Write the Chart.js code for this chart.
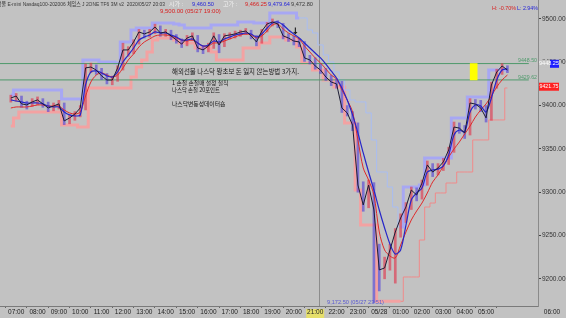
<!DOCTYPE html>
<html><head><meta charset="utf-8">
<script src="https://cdn.jsdelivr.net/npm/chart.js@4.4.1/dist/chart.umd.min.js"></script>
<style>html,body{margin:0;padding:0;background:#c2c2c2;overflow:hidden}#wrap{width:566px;height:318px;position:relative}</style>
</head><body><div id="wrap"><canvas id="c" width="566" height="318"></canvas></div>
<script>
// time in hours from 2020/05/27 00:00 (24 = 05/28 00:00), 15-minute samples of 3-minute chart
const times=[6.75,7,7.25,7.5,7.75,8,8.25,8.5,8.75,9,9.25,9.5,9.75,10,10.25,10.5,10.75,11,11.25,11.5,11.75,12,12.25,12.5,12.75,13,13.25,13.5,13.75,14,14.25,14.5,14.75,15,15.25,15.5,15.75,16,16.25,16.5,16.75,17,17.25,17.5,17.75,18,18.25,18.5,18.75,19,19.25,19.5,19.75,20,20.25,20.5,20.75,21,21.25,21.5,21.75,22,22.25,22.5,22.75,23,23.25,23.5,23.75,24,24.25,24.5,24.75,25,25.25,25.5,25.75,26,26.25,26.5,26.75,27,27.25,27.5,27.75,28,28.25,28.5,28.75,29,29.25,29.5,29.75,30];
const closes=[9408.75,9411,9402,9400.75,9404.25,9406.5,9402,9397.25,9399.5,9402,9382.25,9385.75,9390.25,9397.25,9443.5,9444.5,9441,9434.25,9429.5,9429.5,9443.5,9464.25,9464.25,9473.5,9485,9482.75,9485,9490.75,9483.75,9485,9480.5,9475.75,9471,9478,9480.5,9466.5,9464.25,9468.75,9480.5,9470,9480.5,9481.5,9482.75,9485,9486,9480.5,9473.5,9486,9494.25,9496.5,9494.25,9480.5,9478,9474.5,9473.5,9455,9452.75,9445.75,9441,9433,9427.25,9425,9397.25,9391.5,9377.5,9308.25,9285.25,9308.25,9279.5,9210.25,9212.5,9233.25,9254,9270.25,9283,9302.5,9296.75,9310.5,9331.5,9323.25,9328,9335,9348.75,9375.25,9374,9368.5,9403,9401.75,9397.25,9385.75,9423.75,9438.75,9445.75,9441];
const highs=[9412,9414,9411,9405,9408,9410,9408,9404,9403,9406,9403,9389,9393,9400,9448,9449,9447,9443,9437,9434,9446,9472,9468,9476,9488,9487,9488,9494,9492,9488,9487,9482,9477,9481,9484,9481,9469,9472,9484,9482,9483,9484,9486,9487,9489,9487,9481,9488,9496,9500,9498,9495,9483,9480,9477,9474,9458,9455,9448,9443,9435,9431,9428,9400,9393,9380,9312,9314,9311,9240,9225,9240,9258,9275,9288,9306,9305,9314,9336,9333,9333,9339,9352,9381,9380,9377,9408,9407,9406,9400,9427,9442,9448.5,9446];
const lows=[9404,9405,9398,9396,9399,9401,9398,9393,9394,9396,9378,9379,9383,9387,9395,9438,9436,9430,9425,9424,9428,9441,9457,9460,9471,9478,9479,9483,9480,9480,9476,9472,9467,9469,9475,9462,9460,9462,9466,9461,9468,9477,9478,9480,9482,9477,9469,9472,9485,9492,9490,9477,9474,9470,9468,9451,9448,9442,9437,9429,9423,9420,9392,9388,9371,9300,9278,9282,9172.5,9186,9200,9210,9195,9248,9265,9280,9290,9292,9308,9318,9320,9325,9332,9346,9368,9362,9366,9396,9393,9381,9383,9420,9436,9438];
const maRed=[9397.2,9398.4,9398.4,9398.4,9399.5,9400.7,9400.7,9399.5,9399.5,9399.5,9394.9,9391.5,9390.3,9392.6,9411.1,9427.3,9435.3,9437.7,9435.3,9433,9435.3,9443.4,9452.7,9459.6,9467.7,9473.4,9476.9,9480.4,9481.5,9481.5,9480.4,9478.1,9475.7,9474.6,9475.7,9472.3,9468.8,9468.8,9472.3,9472.3,9474.6,9476.9,9479.2,9481.5,9482.7,9481.5,9478.1,9480.4,9486.1,9493.1,9494.2,9488.4,9483.8,9480.4,9476.9,9468.8,9461.9,9455,9449.2,9442.3,9435.3,9430.7,9418,9406.5,9392.6,9360.3,9328,9314.1,9296.8,9254.1,9233.3,9226.3,9224,9239,9254.1,9267.9,9278.3,9287.5,9299.1,9311.8,9319.9,9330.3,9340.6,9349.9,9358,9367.2,9376.4,9386.8,9394.9,9401.9,9411.1,9421.5,9429.6,9435.3];
const maBlue=[9406.5,9405.3,9404.2,9403,9403,9403,9401.9,9399.5,9398.4,9398.4,9392.6,9389.2,9388,9389.2,9423.8,9438.8,9440,9437.7,9434.2,9433,9438.8,9450.3,9458.4,9466.5,9475.7,9479.2,9481.5,9485,9483.8,9483.8,9481.5,9479.2,9475.7,9475.7,9476.9,9472.3,9468.8,9470,9474.6,9473.4,9476.9,9479.2,9481.5,9482.7,9483.8,9482.7,9479.2,9482.7,9489.6,9495.4,9496.5,9493.1,9487.3,9482.7,9478.1,9472.3,9466.5,9460.7,9455,9448,9440,9431.9,9420.3,9406.5,9389.2,9368.4,9345.3,9323.3,9302.5,9279.4,9258.7,9240.2,9228.7,9233.3,9262.1,9291,9299.1,9304.9,9323.3,9325.6,9326.7,9330.3,9343,9366.1,9371.8,9369.5,9392.6,9400.7,9399.5,9392.6,9408.8,9429.6,9441.1,9442.3];
const upperBand=[9412.2,9418,9418,9418,9418,9418,9418,9418,9418,9418,9407.6,9407.6,9407.6,9407.6,9452.7,9452.7,9452.7,9450.3,9450.3,9450.3,9449.2,9473.4,9473.4,9487.3,9489.6,9489.6,9489.6,9495.4,9495.4,9495.4,9495.4,9494.2,9493.1,9489.6,9489.6,9489.6,9489.6,9489.6,9493.1,9493.1,9493.1,9493.1,9493.1,9496.5,9496.5,9496.5,9495.4,9495.4,9495.4,9506.9,9506.9,9506.9,9506.9,9506.9,9501.2,9501.2,9487.3,9483.8,9470,9458.4,9450.3,9438.8,9429.6,9418,9406.5,9404.2,9404.2,9391.5,9360.3,9323.3,9323.3,9306,9282.9,9259.8,9306,9306,9306,9308.3,9339.5,9339.5,9339.5,9339.5,9339.5,9385.7,9385.7,9385.7,9409.9,9409.9,9409.9,9409.9,9441.1,9441.1,9441.1,9441.1];
const lowerBand=[9376.4,9385.7,9392.6,9392.6,9392.6,9392.6,9392.6,9392.6,9392.6,9392.6,9377.6,9377.6,9377.6,9375.3,9375.3,9420.3,9420.3,9420.3,9420.3,9420.3,9420.3,9420.3,9420.3,9433,9444.6,9452.7,9461.9,9475.7,9478.1,9478.1,9478.1,9475.7,9472.3,9472.3,9472.3,9466.5,9466.5,9466.5,9461.9,9452.7,9452.7,9452.7,9452.7,9452.7,9466.5,9466.5,9466.5,9472.3,9472.3,9479.2,9479.2,9479.2,9475.7,9475.7,9467.7,9449.2,9449.2,9441.1,9441.1,9429.6,9429.6,9421.5,9421.5,9379.9,9379.9,9302.5,9262.1,9262.1,9262.1,9174,9174,9174,9174,9174,9202.1,9202.1,9202.1,9244.8,9282.9,9287.5,9299.1,9299.1,9310.6,9310.6,9323.3,9323.3,9323.3,9360.3,9360.3,9360.3,9383.4,9383.4,9383.4,9420.3];
const levelLines=[9448.5,9429.62];
const levelLabels=['9448.50','9429.62'];
const markerRange=[28.42,9429.62,9448.5]; // time, low, high of yellow marker
const yTicks=[9200,9250,9300,9350,9400,9450,9500];
const hourTicks=[7,8,9,10,11,12,13,14,15,16,17,18,19,20,21,22,23,24,25,26,27,28,29];
const hourLabels=['07:00','08:00','09:00','10:00','11:00','12:00','13:00','14:00','15:00','16:00','17:00','18:00','19:00','20:00','21:00','22:00','23:00','05/28','01:00','02:00','03:00','04:00','05:00'];
const lastPrice=9448.25, stopPrice=9421.75;
const cursorTime=21.2;

const pts=a=>times.map((t,i)=>({x:t,y:a[i]}));
const candleColors=closes.map((c,i)=> (i===0||c>=closes[i-1])?'rgba(225,45,70,0.6)':'rgba(80,60,215,0.6)');
const drop=(c,a,b)=>c.p0.parsed.x>=a && c.p1.parsed.x<=b;

const deco={id:'deco',
 beforeDraw(ch){const c=ch.ctx;c.save();c.fillStyle='#c2c2c2';c.fillRect(0,0,ch.width,ch.height);
  const xs=ch.scales.x,a=ch.chartArea;const px=xs.getPixelForValue(cursorTime);
  c.strokeStyle='#8c8c8c';c.lineWidth=1;c.beginPath();c.moveTo(Math.round(px)+0.5,a.top);c.lineTo(Math.round(px)+0.5,a.bottom);c.stroke();
  const p21=xs.getPixelForValue(21);c.fillStyle='#e6df6a';c.fillRect(p21-9,a.bottom+3,18,9);
  c.restore();},
 afterDraw(ch){const c=ch.ctx,xs=ch.scales.x,ys=ch.scales.y,a=ch.chartArea;c.save();
  c.textBaseline='middle';
  const f='"Liberation Sans","Noto Sans CJK KR",sans-serif';
  // header
  c.font='6px '+f;
  const seg=[['선물 E-mini Nasdaq100-202006 체임스 J 2ONE TF6 3M v2  2020/05/27 20:03',-3,'#3a3a3a',168],['시가 :',169,'#f0f0f0',20],['9,460.50',192,'#2424d8',22],['고가 :',223,'#f0f0f0',20],['9,466.25',245,'#d82020',22],['9,479.64',268,'#2424d8',22],['9,472.80',291,'#3a3a3a',22]];
  seg.forEach(s=>{c.fillStyle=s[2];c.fillText(s[0],s[1],4,s[3]);});
  c.fillStyle='#d82020';c.fillText('9,500.00 (05/27 19:00)',160,11.5,83);
  c.fillStyle='#d82020';c.fillText('H: -0.70%',492,8,24);c.fillStyle='#2424d8';c.fillText('L: 2.94%',517,8,21);
  c.fillStyle='#5a5ad0';c.fillText('9,172.50 (05/27 23:51)',327,302.5,57);
  // level labels
  c.font='6px '+f;c.fillStyle='#4f9a6c';c.textAlign='right';
  levelLines.forEach((v,i)=>{c.fillText(levelLabels[i],537,ys.getPixelForValue(v)-3,19);});
  c.textAlign='left';
  // arrow marker
  c.font='bold 9px "DejaVu Sans",sans-serif';c.fillStyle='#111';c.textAlign='center';
  c.fillText('↓',xs.getPixelForValue(20.08),ys.getPixelForValue(9485));c.textAlign='left';
  // korean notes
  c.fillStyle='#141414';c.font='6.5px "Noto Sans CJK KR",sans-serif';
  c.fillText('해외선물 나스닥 왕초보 돈 잃지 않는방법 3가지.',172,72,127);
  c.font='5.8px "Noto Sans CJK KR",sans-serif';
  c.fillText('1 손절 손절매 설정 철칙',172,83,60);
  c.fillText('나스닥 손절 20포인트',172,90,48);
  c.fillText('나스닥변동성데이터숍',172,103.5,54);
  // price boxes on axis
  let yb=ys.getPixelForValue(lastPrice);
  c.fillStyle='#c2c2c2';c.fillRect(539,yb-4,22,8);
  c.fillStyle='#1e1eff';c.fillRect(550,yb-4,9,8);
  c.font='6px '+f;c.fillStyle='#ffffff';c.fillText('9448.25',539,yb,20);
  let yr=ys.getPixelForValue(stopPrice);
  c.fillStyle='#ff2222';c.fillRect(539,yr-4,20,8);c.fillStyle='#ffffff';c.fillText('9421.75',539.5,yr,19);
  // extra time label
  c.font='6.5px '+f;c.fillStyle='#222';c.textAlign='center';c.fillText('06:00',552,312);
  c.restore();}
};

new Chart(document.getElementById('c'),{
 data:{datasets:[
  {type:'line',data:pts(upperBand),stepped:'middle',borderColor:'rgba(165,165,245,0.95)',borderWidth:3,pointRadius:0,order:10,
   segment:{borderWidth:c=>drop(c,20.25,25.0)?1:3,borderColor:c=>drop(c,20.25,25.0)?'#a9bdf2':undefined}},
  {type:'line',data:pts(lowerBand),stepped:'middle',borderColor:'rgba(246,160,160,0.95)',borderWidth:3,pointRadius:0,order:10,
   segment:{borderWidth:c=>c.p0.parsed.x>=25.0?1:3,borderColor:c=>c.p0.parsed.x>=25.0?'#f08a8a':undefined}},
  {type:'line',data:[{x:6,y:levelLines[0]},{x:31,y:levelLines[0]}],borderColor:'#4f9a6c',borderWidth:1,pointRadius:0,order:9},
  {type:'line',data:[{x:6,y:levelLines[1]},{x:31,y:levelLines[1]}],borderColor:'#4f9a6c',borderWidth:1,pointRadius:0,order:9},
  {type:'bar',data:[{x:markerRange[0],y:[markerRange[1],markerRange[2]]}],backgroundColor:'#ffff00',barThickness:7,grouped:false,order:8},
  {type:'bar',data:times.map((t,i)=>({x:t,y:[lows[i],highs[i]]})),backgroundColor:candleColors,barThickness:2,grouped:false,order:7},
  {type:'line',data:pts(maRed),borderColor:'#e02a2a',borderWidth:1,pointRadius:0,tension:0.3,order:5},
  {type:'line',data:pts(maBlue),borderColor:'#2626c8',borderWidth:1.2,pointRadius:0,tension:0.3,order:4},
  {type:'line',data:pts(closes),borderColor:'#1c1c34',borderWidth:1,pointRadius:0,order:3}
 ]},
 options:{responsive:false,animation:false,devicePixelRatio:1,
  layout:{padding:0},
  plugins:{legend:{display:false},tooltip:{enabled:false}},
  scales:{
   x:{type:'linear',min:6.791,max:30.884,
    afterBuildTicks:s=>{s.ticks=hourTicks.map(v=>({value:v}));},
    afterFit:s=>{s.height=12;s.paddingLeft=0;s.paddingRight=0;},
    ticks:{autoSkip:false,maxRotation:0,padding:0,color:'#222',font:{size:6.5,family:'"Liberation Sans",sans-serif'},
     callback:v=>{const i=hourTicks.indexOf(v);return i>=0?hourLabels[i]:'';}},
    grid:{drawOnChartArea:false,tickLength:2,color:'#666'},border:{color:'#7a7a7a'}},
   y:{position:'right',min:9168.6,max:9521.9,
    afterBuildTicks:s=>{s.ticks=yTicks.map(v=>({value:v}));},
    afterFit:s=>{s.width=28;s.paddingTop=0;s.paddingBottom=0;},
    ticks:{padding:1,color:'#333',font:{size:6.5,family:'"Liberation Sans",sans-serif'},callback:v=>v.toFixed(2)},
    grid:{drawOnChartArea:false,tickLength:3,color:'#444'},border:{color:'#8a8a8a'}}
  }},
 plugins:[deco]
});
</script></body></html>
